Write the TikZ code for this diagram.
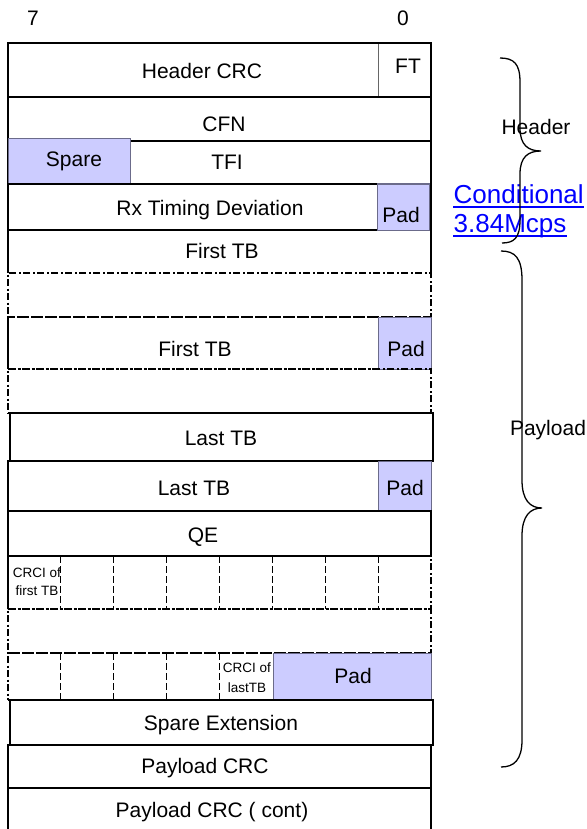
\documentclass[tikz,border=0pt]{standalone}
\usepackage{fontspec}
\setmainfont{Liberation Sans}
\usepackage{xcolor}
\usepackage{tikz}
\usetikzlibrary{positioning}

\definecolor{padfill}{HTML}{CCCCFF}
\definecolor{padline}{HTML}{6B6B8A}
\definecolor{linkblue}{HTML}{0000FF}

\begin{document}
\begin{tikzpicture}[x=1pt, y=-1pt, line width=1.3pt,
    field/.style={anchor=north west, inner sep=0pt, outer sep=0pt},
    box/.style={field, draw},
    dd/.style={dash pattern=on 7pt off 2.5pt on 2pt off 2.5pt},
    ddbox/.style={field, draw, dd},
    pad/.style={field, draw=padline, fill=padfill, line width=1pt},
    cut/.style={dash pattern=on 7pt off 3pt, line width=1.1pt},
    lbl/.style={anchor=base, inner sep=0pt, font=\fontsize{21}{24}\selectfont},
    tiny/.style={anchor=base, inner sep=0pt, font=\fontsize{13.5}{15}\selectfont},
    link/.style={anchor=base west, inner sep=0pt, text=linkblue, font=\fontsize{26}{30}\selectfont},
    brace/.style={line width=1.3pt}]

  \useasboundingbox (0,0) rectangle (586,829);

  \node[lbl] (b7) at (33,26) {7};
  \node[lbl] (b0) at (403,26) {0};

  \node[field, draw=black!60, line width=1pt, minimum width=53, minimum height=54] (ft) at (378,43) {};
  \node[box, minimum width=423, minimum height=54] (hcrc) at (8,43) {};
  \node[box, minimum width=423, minimum height=44] (cfn) at (8,97) {};
  \node[box, minimum width=423, minimum height=43] (tfi) at (8,141) {};
  \node[pad, minimum width=122, minimum height=45] (spare) at (8,139) {};
  \node[box, minimum width=423, minimum height=46] (rxtd) at (8,184) {};
  \node[pad, minimum width=52, minimum height=46] (pad1) at (377,184) {};

  \node[field, minimum width=423, minimum height=43] (tb1) at (8,230) {};
  \draw (tb1.south west) -- (tb1.north west);
  \draw (tb1.north east) -- (tb1.south east);
  \node[ddbox, minimum width=423, minimum height=44] (gap1) at (8,273) {};
  \node[ddbox, minimum width=423, minimum height=52] (tb2) at (8,317) {};
  \draw (tb2.north west) -- (tb2.south west);
  \node[pad, minimum width=53, minimum height=52] (pad2) at (378,317) {};
  \node[ddbox, minimum width=423, minimum height=44] (gap2) at (8,369) {};

  \node[box, minimum width=423, minimum height=48] (ltb1) at (10,413) {};
  \node[box, minimum width=423, minimum height=50] (ltb2) at (8,461) {};
  \node[pad, minimum width=53, minimum height=50] (pad3) at (378,461) {};
  \node[box, minimum width=423, minimum height=45] (qe) at (8,511) {};

  \node[ddbox, minimum width=423, minimum height=53] (crc1) at (8,556) {};
  \node[ddbox, minimum width=423, minimum height=44] (gap3) at (8,609) {};
  \node[ddbox, minimum width=423, minimum height=47] (crc2) at (8,653) {};
  \draw (crc1.north west) -- (crc1.south west);
  \foreach \i in {1,...,7}
    \draw[cut] ([xshift=\i*52.875pt]crc1.north west) -- ([xshift=\i*52.875pt]crc1.south west);
  \foreach \i in {1,...,4}
    \draw[cut] ([xshift=\i*52.875pt]crc2.north west) -- ([xshift=\i*52.875pt]crc2.south west);
  \node[pad, minimum width=158, minimum height=47] (pad4) at (273,653) {};

  \node[box, minimum width=423, minimum height=45] (spext) at (10,700) {};
  \node[box, minimum width=423, minimum height=43] (pcrc) at (8,745) {};
  \node[box, minimum width=423, minimum height=50] (pcrc2) at (8,788) {};

  \node[lbl] (thcrc) at (202,79) {Header CRC};
  \node[lbl] (tft) at (408,74) {FT};
  \node[lbl] (tcfn) at (224,132) {CFN};
  \node[lbl] (tspare) at (74,167) {Spare};
  \node[lbl] (ttfi) at (227,170) {TFI};
  \node[lbl] (trx) at (210,215) {Rx Timing Deviation};
  \node[lbl] (tpad1) at (401,222) {Pad};
  \node[lbl] (ttb1) at (222,258) {First TB};
  \node[lbl] (ttb2) at (195,356) {First TB};
  \node[lbl] (tpad2) at (406,356) {Pad};
  \node[lbl] (tltb1) at (221,445) {Last TB};
  \node[lbl] (tltb2) at (194,495) {Last TB};
  \node[lbl] (tpad3) at (405,495) {Pad};
  \node[lbl] (tqe) at (203,542) {QE};
  \node[tiny] (tcrcf1) at (37,577) {CRCI of};
  \node[tiny] (tcrcf2) at (37,595) {first TB};
  \node[tiny] (tcrcl1) at (247,672) {CRCI of};
  \node[tiny] (tcrcl2) at (247,692) {lastTB};
  \node[lbl] (tpad4) at (353,683) {Pad};
  \node[lbl] (tspext) at (221,730) {Spare Extension};
  \node[lbl] (tpcrc) at (205,773) {Payload CRC};
  \node[lbl] (tpcrc2) at (212,817) {Payload CRC ( cont)};

  \node[lbl] (theader) at (536,135) {Header};
  \node[link] (tcond) at (453,204) {Conditional};
  \node[link] (tmcps) at (453,232) {3.84Mcps};
  \draw[linkblue, line width=1.6pt] ([yshift=-3pt]tcond.base west) -- ([yshift=-3pt]tcond.base east);
  \draw[linkblue, line width=1.6pt] ([yshift=-4pt]tmcps.base west) -- ([yshift=-4pt]tmcps.base east);
  \node[lbl] (tpayload) at (548,435) {Payload};

  \draw[brace] (500,58) .. controls (514,58) and (520,64) .. (520,82) -- (520,128)
    .. controls (520,145) and (528,151) .. (541,151)
    .. controls (528,151) and (520,157) .. (520,174) -- (520,220)
    .. controls (520,238) and (514,243) .. (502,243);
  \draw[brace] (501,251) .. controls (515,251) and (522,258) .. (522,280) -- (522,480)
    .. controls (522,500) and (530,508) .. (542,508)
    .. controls (530,508) and (522,516) .. (522,536) -- (522,740)
    .. controls (522,760) and (514,767) .. (501,767);
\end{tikzpicture}
\end{document}
